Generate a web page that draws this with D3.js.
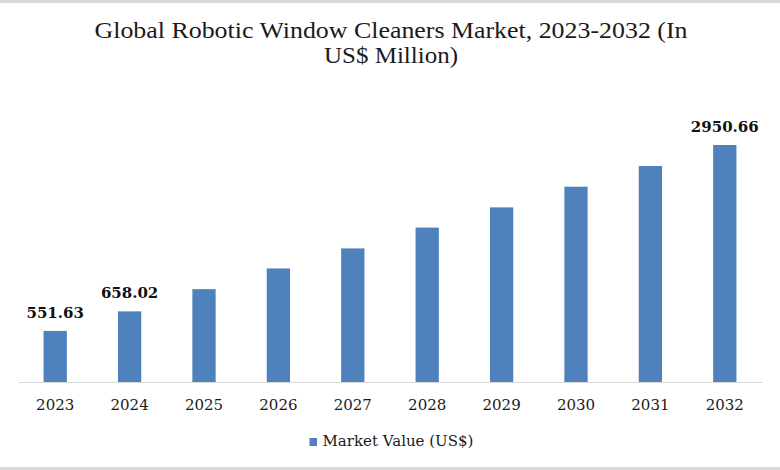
<!DOCTYPE html>
<html>
<head>
<meta charset="utf-8">
<script src="https://cdn.jsdelivr.net/npm/d3@7/dist/d3.min.js"></script>
<style>
  html, body { margin: 0; padding: 0; background: #fff; }
  svg { display: block; }
</style>
</head>
<body>
<svg id="chart" width="780" height="470"></svg>
<script>
// ---- data ----
const years = ["2023", "2024", "2025", "2026", "2027", "2028", "2029", "2030", "2031", "2032"];
const marketValues = [551.63, 658.02, 804, 969, 1161, 1401, 1681, 2025, 2441, 2950.66];
const labeledYears = ["2023", "2024", "2032"];
const titleLines = ["Global Robotic Window Cleaners Market, 2023-2032 (In", "US$ Million)"];
const titleWidths = [593, 134];
const seriesName = "Market Value (US$)";

const W = 780, H = 470;
const barColor = "#4f81bd";
const svg = d3.select("#chart");

// frame bands
svg.append("rect").attr("x", 0).attr("y", 0).attr("width", W).attr("height", 3).attr("fill", "#d9d9d9");
svg.append("rect").attr("x", 0).attr("y", 467).attr("width", W).attr("height", 3).attr("fill", "#d9d9d9");

// title
svg.append("g").selectAll("text").data(titleLines).join("text")
  .attr("text-anchor", "middle")
  .attr("font-family", "'Liberation Serif', 'DejaVu Serif', serif")
  .attr("font-size", 24)
  .attr("fill", "#1a1a1a")
  .attr("x", 391)
  .attr("y", (d, i) => 38 + i * 24.5)
  .attr("textLength", (d, i) => titleWidths[i])
  .attr("lengthAdjust", "spacingAndGlyphs")
  .text(d => d);

// scales
const x = d3.scaleBand().domain(years).range([18, 762]).padding(0);
const barW = x.bandwidth() * 0.313;
const baseY = 382;
const y = d3.scaleLog().domain([348, 2950.66]).range([baseY, 145]);

// bars
svg.append("g").selectAll("rect")
  .data(years.map((yr, i) => ({ yr, v: marketValues[i] })))
  .join("rect")
  .attr("x", d => x(d.yr) + (x.bandwidth() - barW) / 2)
  .attr("y", d => y(d.v))
  .attr("width", barW)
  .attr("height", d => baseY - y(d.v))
  .attr("fill", barColor);

// axis
const axis = svg.append("g")
  .attr("transform", `translate(0,${baseY})`)
  .call(d3.axisBottom(x).tickSize(0).tickPadding(17.5));
axis.select(".domain").attr("stroke", "#d9d9d9").attr("stroke-width", 1.2);
axis.selectAll(".tick text")
  .attr("font-family", "'DejaVu Serif', serif")
  .attr("font-size", 15)
  .attr("fill", "#1a1a1a");

// value labels
svg.append("g").selectAll("text")
  .data(years.map((yr, i) => ({ yr, v: marketValues[i] })).filter(d => labeledYears.includes(d.yr)))
  .join("text")
  .attr("x", d => x(d.yr) + x.bandwidth() / 2)
  .attr("y", d => y(d.v) - 13)
  .attr("text-anchor", "middle")
  .attr("font-family", "'DejaVu Serif', serif")
  .attr("font-weight", "bold")
  .attr("font-size", 15)
  .attr("fill", "#111")
  .text(d => d.v.toFixed(2));

// legend
const lg = svg.append("g");
lg.append("rect").attr("x", 309.5).attr("y", 438).attr("width", 7.5).attr("height", 8).attr("fill", barColor);
lg.append("text")
  .attr("x", 322.5).attr("y", 446)
  .attr("font-family", "'DejaVu Serif', serif")
  .attr("font-size", 15)
  .attr("fill", "#1a1a1a")
  .text(seriesName);
</script>
</body>
</html>
